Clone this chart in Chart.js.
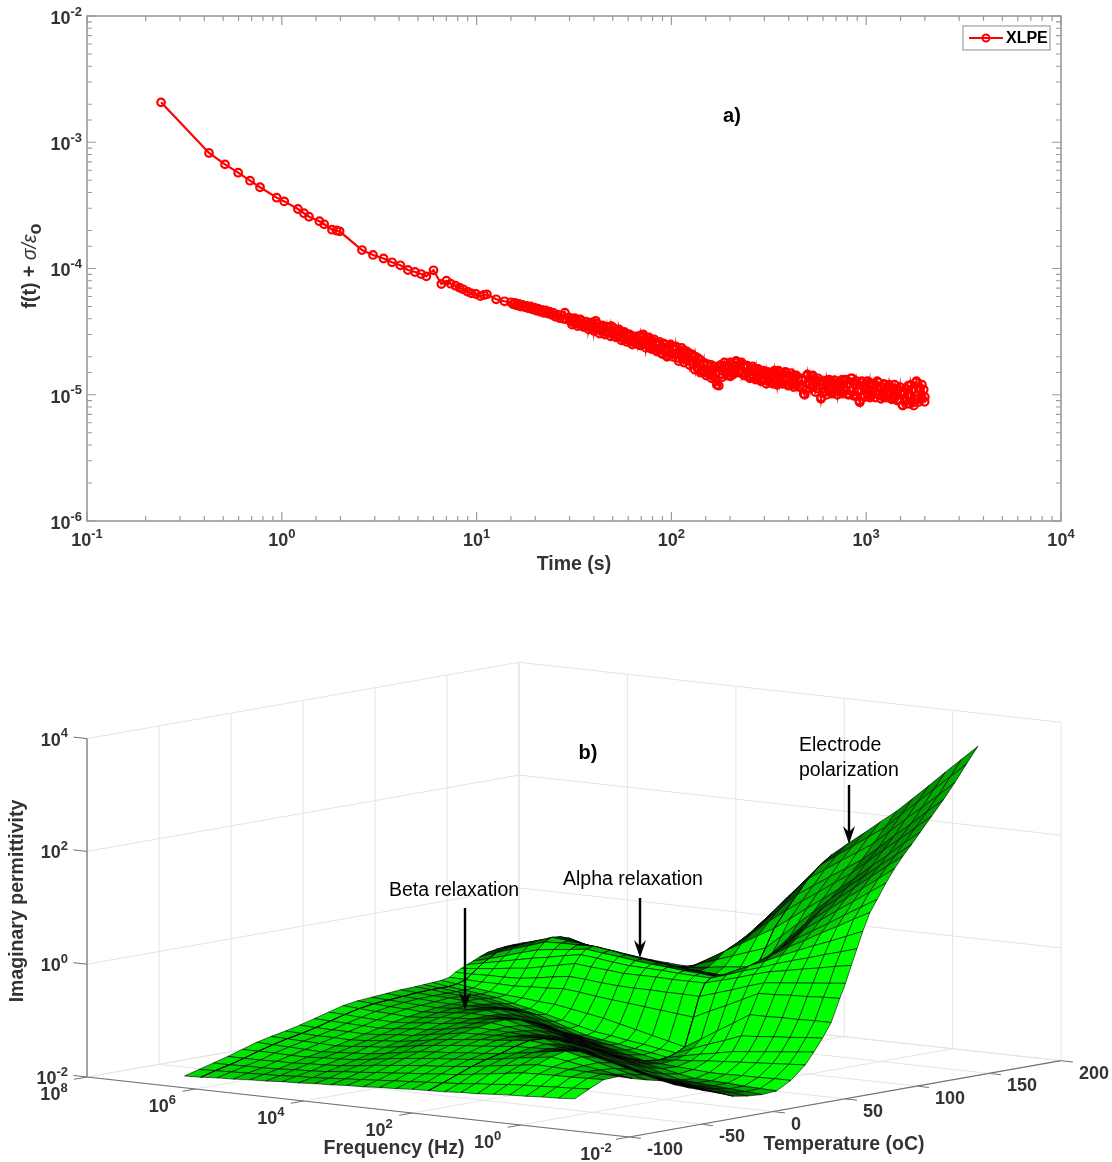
<!DOCTYPE html>
<html>
<head>
<meta charset="utf-8">
<title>XLPE</title>
<script src="https://cdn.jsdelivr.net/npm/chart.js@4"></script>
<style>
  html, body { margin: 0; padding: 0; background: #fff; }
  #page { position: relative; width: 1112px; height: 1162px; overflow: hidden; }
  canvas { position: absolute; left: 0; }
  #decayChart { top: 0; }
  #surfaceChart { top: 590px; }
</style>
</head>
<body>
<div id="page">
  <canvas id="decayChart" width="1112" height="590"></canvas>
  <canvas id="surfaceChart" width="1112" height="572"></canvas>
</div>
<script>
// a) decay curve
const timeS = [
  0.24,0.423,0.511,0.597,0.687,0.773,0.942,1.03,1.21,1.3,
  1.38,1.56,1.65,1.81,1.91,1.98,2.58,2.94,3.33,3.68,
  4.06,4.44,4.83,5.19,5.52,6.01,6.59,7,7.36,7.78,
  8.18,8.53,9,9.4,9.93,10.45,10.9,11.3,12.6,13.9,
  15,15.4,15.7,16.1,16.5,16.8,17.2,17.6,18,18.4,
  18.9,19.3,19.8,20.2,20.7,21.2,21.6,22.1,22.7,23.2,
  23.7,24.3,24.8,25.4,26,26.6,27.2,27.8,28.4,29.1,
  29.8,30.5,31.2,31.9,32.6,33.4,34.1,34.9,35.7,36.5,
  37.4,38.2,39.1,40,40.9,41.9,42.8,43.8,44.8,45.9,
  46.9,48,49.1,50.2,51.4,52.6,53.8,55,56.3,57.6,
  58.9,60.3,61.7,63.1,64.5,66,67.5,69.1,70.7,72.3,
  74,75.7,77.4,79.2,81,82.9,84.8,86.8,88.8,90.8,
  92.9,95,97.2,99.5,102,104,106,109,111,114,
  116,119,122,125,127,130,133,136,140,143,
  146,149,153,156,160,164,167,171,175,179,
  183,187,192,196,201,205,210,215,220,225,
  230,235,241,246,252,258,264,270,276,283,
  289,296,303,310,317,324,332,339,347,355,
  363,372,380,389,398,407,417,426,436,446,
  457,467,478,489,500,512,524,536,548,561,
  574,587,600,614,629,643,658,673,689,705,
  721,738,755,772,790,808,827,846,866,886,
  906,927,949,971,993,1016,1040,1064,1088,1114,
  1139,1166,1193,1220,1248,1277,1307,1337,1368,1400,
  1432,1465,1499,1534,1570,1606,1643,1681,1720,1760,
  1800,1842,1885,1928,1973,2000,
  30.9,31.9,33,34.1,35.2,36.4,37.6,38.8,40.1,41.4,
  42.8,44.2,45.6,47.1,48.7,50.3,51.9,53.6,55.4,57.2,
  59.1,61,63,65.1,67.2,69.4,71.7,74.1,76.5,79,
  81.6,84.3,87,89.9,92.8,95.9,99,102,106,109,
  113,116,120,124,128,132,137,141,146,151,
  156,161,166,171,177,183,189,195,201,208,
  215,222,229,237,245,253,261,270,279,288,
  297,307,317,327,338,349,361,373,385,398,
  411,424,438,453,467,483,499,515,532,549,
  567,586,605,625,645,666,688,711,734,758,
  783,809,835,862,891,920,950,981,1013,1046,
  1081,1116,1153,1190,1229,1270,1311,1354,1399,1445,
  1492,1541,1592,1644,1698,1754,1811,1871,1932,1995
];
const decayValues = [
  2.07e-3,8.22e-4,6.68e-4,5.74e-4,4.96e-4,4.4e-4,3.64e-4,3.4e-4,2.96e-4,2.74e-4,
  2.57e-4,2.37e-4,2.24e-4,2.03e-4,2e-4,1.97e-4,1.4e-4,1.28e-4,1.2e-4,1.12e-4,
  1.06e-4,9.73e-5,9.38e-5,9.04e-5,8.67e-5,9.68e-5,7.54e-5,8e-5,7.58e-5,7.31e-5,
  7.05e-5,6.84e-5,6.55e-5,6.35e-5,6.28e-5,6.05e-5,6.17e-5,6.24e-5,5.7e-5,5.5e-5,
  5.4e-5,5.2e-5,5.35e-5,5.1e-5,5.25e-5,5e-5,5.15e-5,4.95e-5,5.05e-5,4.85e-5,
  5e-5,4.75e-5,4.9e-5,4.65e-5,4.8e-5,4.55e-5,4.7e-5,4.45e-5,4.65e-5,4.4e-5,
  4.55e-5,4.3e-5,4.45e-5,4.15e-5,4.3e-5,4.05e-5,4.25e-5,4e-5,4.47e-5,3.95e-5,
  4.1e-5,3.8e-5,4e-5,3.7e-5,3.9e-5,3.65e-5,3.85e-5,3.6e-5,3.45e-5,3.75e-5,
  3.5e-5,3.7e-5,3.35e-5,3.55e-5,3.85e-5,3.3e-5,3.5e-5,3.2e-5,3.45e-5,3.15e-5,
  3.4e-5,3.1e-5,3.5e-5,3e-5,3.25e-5,2.95e-5,3.3e-5,2.85e-5,3.1e-5,2.8e-5,
  3.05e-5,2.7e-5,2.95e-5,2.62e-5,2.85e-5,2.55e-5,2.5e-5,2.95e-5,2.6e-5,2.9e-5,
  2.5e-5,2.8e-5,2.4e-5,2.7e-5,2.35e-5,2.6e-5,2.25e-5,2.5e-5,2.15e-5,2.55e-5,
  2.3e-5,2e-5,2.45e-5,2.15e-5,2.4e-5,2.1e-5,2.3e-5,1.95e-5,2.2e-5,2.05e-5,
  2.25e-5,1.9e-5,2.15e-5,1.85e-5,2.1e-5,1.75e-5,2e-5,1.62e-5,1.9e-5,1.55e-5,
  1.8e-5,1.5e-5,1.75e-5,1.55e-5,1.72e-5,1.4e-5,1.68e-5,1.28e-5,1.18e-5,1.72e-5,
  1.45e-5,1.8e-5,1.5e-5,1.7e-5,1.4e-5,1.75e-5,1.5e-5,1.8e-5,1.55e-5,1.75e-5,
  1.48e-5,1.72e-5,1.45e-5,1.65e-5,1.4e-5,1.62e-5,1.38e-5,1.6e-5,1.35e-5,1.55e-5,
  1.32e-5,1.5e-5,1.3e-5,1.52e-5,1.28e-5,1.45e-5,1.22e-5,1.5e-5,1.3e-5,1.55e-5,
  1.25e-5,1.45e-5,1.3e-5,1.48e-5,1.22e-5,1.4e-5,1.2e-5,1.42e-5,1.2e-5,1.35e-5,
  1.18e-5,1.3e-5,1.02e-5,1.1e-5,1.42e-5,1.2e-5,1.4e-5,1.18e-5,1.32e-5,1.12e-5,
  1.28e-5,9.5e-6,1.2e-5,1.05e-5,1.3e-5,1.12e-5,1.28e-5,1.05e-5,1.3e-5,1.1e-5,
  1.25e-5,1.05e-5,1.32e-5,1.08e-5,1.3e-5,1.02e-5,1.22e-5,1.35e-5,1e-5,1.2e-5,
  1.05e-5,8.7e-6,1.25e-5,1e-5,1.22e-5,1.02e-5,1.25e-5,9.8e-6,1.18e-5,1.02e-5,
  1.28e-5,1e-5,1.15e-5,9.7e-6,1.2e-5,1e-5,1.15e-5,9.5e-6,1.12e-5,9.8e-6,
  1.1e-5,9.2e-6,1.05e-5,8.3e-6,1.02e-5,9e-6,1.18e-5,8.5e-6,1.1e-5,8.7e-6,
  1.25e-5,9.2e-6,1.12e-5,9.5e-6,1.1e-5,9.6e-6,
  3.6e-5,4.05e-5,3.5e-5,3.95e-5,3.45e-5,3.8e-5,3.3e-5,3.75e-5,3.2e-5,3.65e-5,
  3.05e-5,3.55e-5,3e-5,3.45e-5,2.9e-5,3.4e-5,2.85e-5,3.2e-5,2.7e-5,3.15e-5,
  2.62e-5,3e-5,2.5e-5,2.9e-5,2.75e-5,2.45e-5,3e-5,2.35e-5,2.85e-5,2.3e-5,
  2.75e-5,2.2e-5,2.62e-5,2.1e-5,2.5e-5,2.05e-5,2.5e-5,2e-5,2.4e-5,1.85e-5,
  2.35e-5,1.8e-5,2.2e-5,1.72e-5,2.05e-5,1.58e-5,1.95e-5,1.5e-5,1.72e-5,1.42e-5,
  1.65e-5,1.35e-5,1.6e-5,1.2e-5,1.65e-5,1.38e-5,1.7e-5,1.42e-5,1.8e-5,1.45e-5,
  1.85e-5,1.5e-5,1.8e-5,1.42e-5,1.7e-5,1.35e-5,1.68e-5,1.32e-5,1.6e-5,1.28e-5,
  1.55e-5,1.22e-5,1.5e-5,1.25e-5,1.55e-5,1.2e-5,1.5e-5,1.22e-5,1.52e-5,1.18e-5,
  1.48e-5,1.15e-5,1.42e-5,1.15e-5,1.35e-5,1e-5,1.45e-5,1.12e-5,1.42e-5,1.05e-5,
  1.35e-5,9.3e-6,1.28e-5,1e-5,1.32e-5,1.02e-5,1.3e-5,1e-5,1.28e-5,1.02e-5,
  1.32e-5,1e-5,1.35e-5,9.8e-6,1.28e-5,9e-6,1.28e-5,9.6e-6,1.28e-5,9.5e-6,
  1.22e-5,9.5e-6,1.25e-5,9.3e-6,1.22e-5,9.5e-6,1.2e-5,9.2e-6,1.2e-5,9e-6,
  1.15e-5,8.2e-6,1.12e-5,8.5e-6,1.2e-5,8.2e-6,1.28e-5,8.8e-6,1.2e-5,8.8e-6
];

// b) surface, log10 of frequency across, temperature down, log10 of permittivity in the cells
const logFreq = [6.2,5.9,5.6,5.3,5,4.7,4.4,4.1,3.8,3.5,3.2,2.9,2.6,2.3,2,1.7,1.4,1.1,0.8,0.5,0.2,-0.1,-0.4,-0.7,-1];
const tempC = [-100,-90,-80,-70,-60,-50,-40,-30,-20,-10,0,10,20,30,40,50,60,66,72,78,84,88,92,96,100,105,110,116,122,128,134,140,148,156,164,172,180];
const logPerm = [
  [-1.79,-1.78,-1.76,-1.75,-1.73,-1.72,-1.70,-1.69,-1.67,-1.66,-1.64,-1.63,-1.61,-1.60,-1.58,-1.57,-1.56,-1.54,-1.53,-1.51,-1.49,-1.48,-1.46,-1.45,-1.43],
  [-1.72,-1.71,-1.70,-1.69,-1.68,-1.67,-1.65,-1.64,-1.62,-1.60,-1.58,-1.56,-1.54,-1.52,-1.50,-1.48,-1.46,-1.43,-1.41,-1.38,-1.36,-1.35,-1.33,-1.32,-1.30],
  [-1.65,-1.65,-1.64,-1.64,-1.63,-1.61,-1.60,-1.58,-1.55,-1.53,-1.50,-1.48,-1.45,-1.43,-1.40,-1.38,-1.34,-1.30,-1.26,-1.22,-1.21,-1.20,-1.20,-1.19,-1.18],
  [-1.58,-1.58,-1.58,-1.57,-1.57,-1.55,-1.54,-1.52,-1.49,-1.45,-1.42,-1.39,-1.36,-1.34,-1.31,-1.28,-1.24,-1.20,-1.16,-1.12,-1.13,-1.14,-1.15,-1.16,-1.17],
  [-1.50,-1.50,-1.50,-1.51,-1.51,-1.49,-1.48,-1.46,-1.42,-1.38,-1.34,-1.31,-1.28,-1.26,-1.23,-1.20,-1.16,-1.11,-1.07,-1.03,-1.07,-1.12,-1.16,-1.21,-1.25],
  [-1.42,-1.43,-1.44,-1.45,-1.46,-1.44,-1.42,-1.40,-1.36,-1.31,-1.27,-1.24,-1.22,-1.19,-1.17,-1.14,-1.10,-1.06,-1.01,-0.97,-1.04,-1.11,-1.18,-1.25,-1.32],
  [-1.36,-1.37,-1.38,-1.39,-1.40,-1.38,-1.35,-1.33,-1.29,-1.24,-1.20,-1.17,-1.14,-1.12,-1.09,-1.06,-1.05,-1.04,-1.03,-1.02,-1.09,-1.16,-1.24,-1.31,-1.38],
  [-1.31,-1.32,-1.33,-1.33,-1.34,-1.32,-1.29,-1.27,-1.23,-1.18,-1.14,-1.11,-1.08,-1.06,-1.03,-1.00,-1.03,-1.06,-1.09,-1.12,-1.20,-1.27,-1.35,-1.42,-1.50],
  [-1.25,-1.26,-1.27,-1.27,-1.28,-1.26,-1.23,-1.21,-1.16,-1.12,-1.07,-1.06,-1.05,-1.04,-1.02,-1.01,-1.08,-1.14,-1.21,-1.28,-1.34,-1.41,-1.47,-1.54,-1.60],
  [-1.18,-1.19,-1.20,-1.21,-1.22,-1.20,-1.17,-1.15,-1.11,-1.06,-1.02,-1.03,-1.04,-1.06,-1.07,-1.08,-1.17,-1.26,-1.35,-1.44,-1.49,-1.54,-1.59,-1.64,-1.69],
  [-1.11,-1.12,-1.14,-1.15,-1.16,-1.14,-1.11,-1.09,-1.05,-1.02,-0.98,-1.02,-1.06,-1.10,-1.14,-1.18,-1.29,-1.39,-1.50,-1.60,-1.64,-1.67,-1.71,-1.74,-1.78],
  [-1.04,-1.06,-1.08,-1.09,-1.11,-1.09,-1.06,-1.04,-1.02,-0.99,-0.97,-1.04,-1.10,-1.17,-1.23,-1.30,-1.40,-1.50,-1.60,-1.70,-1.74,-1.77,-1.81,-1.84,-1.88],
  [-1.00,-1.02,-1.04,-1.05,-1.07,-1.05,-1.02,-1.00,-1.01,-1.01,-1.02,-1.10,-1.18,-1.26,-1.34,-1.42,-1.51,-1.60,-1.69,-1.78,-1.81,-1.84,-1.86,-1.89,-1.92],
  [-0.98,-1.00,-1.01,-1.03,-1.04,-1.02,-1.01,-0.99,-1.03,-1.08,-1.12,-1.20,-1.29,-1.37,-1.46,-1.54,-1.62,-1.69,-1.77,-1.84,-1.86,-1.88,-1.90,-1.92,-1.94],
  [-0.96,-0.98,-0.99,-1.01,-1.02,-1.02,-1.02,-1.02,-1.09,-1.17,-1.24,-1.32,-1.40,-1.48,-1.56,-1.64,-1.70,-1.75,-1.81,-1.86,-1.87,-1.88,-1.90,-1.91,-1.92],
  [-0.94,-0.96,-0.98,-0.99,-1.01,-1.04,-1.06,-1.09,-1.18,-1.28,-1.37,-1.44,-1.51,-1.58,-1.65,-1.72,-1.74,-1.76,-1.78,-1.80,-1.80,-1.79,-1.79,-1.78,-1.78],
  [-0.93,-0.95,-0.98,-1.00,-1.02,-1.07,-1.13,-1.18,-1.28,-1.37,-1.47,-1.53,-1.58,-1.64,-1.69,-1.75,-1.72,-1.70,-1.67,-1.65,-1.63,-1.61,-1.59,-1.57,-1.55],
  [-0.92,-0.95,-0.98,-1.01,-1.04,-1.10,-1.17,-1.23,-1.32,-1.41,-1.50,-1.55,-1.59,-1.64,-1.68,-1.73,-1.67,-1.61,-1.56,-1.50,-1.47,-1.44,-1.41,-1.38,-1.35],
  [-0.91,-0.95,-0.98,-1.02,-1.05,-1.12,-1.18,-1.25,-1.32,-1.39,-1.46,-1.50,-1.55,-1.59,-1.64,-1.68,-1.57,-1.46,-1.36,-1.25,-1.23,-1.20,-1.18,-1.15,-1.13],
  [-0.90,-0.93,-0.97,-1.00,-1.03,-1.05,-1.08,-1.10,-1.15,-1.20,-1.25,-1.32,-1.39,-1.46,-1.53,-1.60,-1.43,-1.25,-1.08,-0.90,-0.90,-0.89,-0.89,-0.88,-0.88],
  [-0.87,-0.88,-0.89,-0.89,-0.90,-0.88,-0.87,-0.85,-0.88,-0.92,-0.95,-0.98,-1.01,-1.04,-1.07,-1.10,-0.96,-0.83,-0.69,-0.55,-0.54,-0.52,-0.51,-0.49,-0.48],
  [-0.80,-0.80,-0.79,-0.79,-0.78,-0.74,-0.69,-0.65,-0.67,-0.70,-0.72,-0.73,-0.73,-0.74,-0.74,-0.75,-0.66,-0.57,-0.47,-0.38,-0.35,-0.32,-0.29,-0.26,-0.23],
  [-0.75,-0.72,-0.69,-0.65,-0.62,-0.56,-0.50,-0.44,-0.47,-0.49,-0.52,-0.52,-0.52,-0.53,-0.53,-0.53,-0.45,-0.37,-0.28,-0.20,-0.15,-0.09,-0.04,0.02,0.07],
  [-0.70,-0.64,-0.58,-0.52,-0.46,-0.41,-0.35,-0.30,-0.33,-0.37,-0.40,-0.41,-0.42,-0.44,-0.45,-0.46,-0.37,-0.27,-0.18,-0.08,0.01,0.09,0.18,0.26,0.35],
  [-0.66,-0.58,-0.50,-0.41,-0.33,-0.29,-0.26,-0.22,-0.26,-0.29,-0.33,-0.36,-0.38,-0.41,-0.43,-0.46,-0.33,-0.20,-0.08,0.05,0.17,0.29,0.40,0.52,0.64],
  [-0.60,-0.50,-0.40,-0.31,-0.21,-0.20,-0.20,-0.19,-0.23,-0.28,-0.32,-0.36,-0.39,-0.43,-0.46,-0.50,-0.33,-0.16,0.01,0.18,0.33,0.49,0.64,0.80,0.95],
  [-0.55,-0.45,-0.35,-0.25,-0.15,-0.18,-0.21,-0.24,-0.28,-0.32,-0.36,-0.40,-0.44,-0.47,-0.51,-0.55,-0.34,-0.12,0.09,0.30,0.47,0.64,0.82,0.99,1.16],
  [-0.52,-0.43,-0.35,-0.26,-0.17,-0.23,-0.28,-0.34,-0.37,-0.41,-0.44,-0.47,-0.50,-0.52,-0.55,-0.58,-0.32,-0.07,0.19,0.45,0.64,0.84,1.03,1.23,1.42],
  [-0.50,-0.43,-0.36,-0.29,-0.22,-0.30,-0.37,-0.45,-0.47,-0.50,-0.52,-0.54,-0.55,-0.57,-0.58,-0.60,-0.30,0.00,0.30,0.60,0.81,1.02,1.23,1.44,1.65],
  [-0.49,-0.45,-0.40,-0.36,-0.31,-0.39,-0.48,-0.56,-0.57,-0.57,-0.58,-0.54,-0.51,-0.47,-0.44,-0.40,-0.11,0.18,0.46,0.75,0.97,1.19,1.41,1.63,1.85],
  [-0.49,-0.47,-0.45,-0.43,-0.41,-0.49,-0.58,-0.66,-0.64,-0.62,-0.60,-0.50,-0.40,-0.30,-0.20,-0.10,0.15,0.40,0.65,0.90,1.13,1.35,1.58,1.80,2.03],
  [-0.49,-0.49,-0.50,-0.50,-0.50,-0.58,-0.66,-0.74,-0.69,-0.65,-0.60,-0.44,-0.27,-0.11,0.06,0.22,0.43,0.64,0.84,1.05,1.28,1.52,1.75,1.99,2.22],
  [-0.49,-0.52,-0.56,-0.59,-0.62,-0.69,-0.76,-0.83,-0.76,-0.69,-0.62,-0.40,-0.17,0.05,0.28,0.50,0.70,0.89,1.09,1.28,1.52,1.76,1.99,2.23,2.47],
  [-0.53,-0.58,-0.63,-0.67,-0.72,-0.78,-0.83,-0.89,-0.79,-0.68,-0.58,-0.31,-0.05,0.22,0.48,0.75,0.94,1.13,1.31,1.50,1.74,1.99,2.23,2.48,2.72],
  [-0.59,-0.64,-0.69,-0.74,-0.79,-0.84,-0.88,-0.93,-0.79,-0.64,-0.50,-0.20,0.10,0.40,0.70,1.00,1.19,1.38,1.56,1.75,2.00,2.25,2.49,2.74,2.99],
  [-0.66,-0.71,-0.75,-0.80,-0.84,-0.88,-0.91,-0.95,-0.76,-0.57,-0.38,-0.06,0.25,0.57,0.88,1.20,1.40,1.60,1.80,2.00,2.26,2.51,2.77,3.02,3.28],
  [-0.74,-0.77,-0.81,-0.84,-0.87,-0.89,-0.91,-0.93,-0.70,-0.48,-0.25,0.07,0.39,0.71,1.03,1.35,1.58,1.80,2.03,2.25,2.51,2.77,3.04,3.30,3.56]
];
const kinkColumns = [1, 15];

// axis ticks of the 3D box
const freqTicks = [8, 6, 4, 2, 0, -2];
const tempTicks = [-100, -50, 0, 50, 100, 150, 200];
const permTicks = [-2, 0, 2, 4];

const textColor = "#333333";
const fontName = '"Liberation Sans", Arial, sans-serif';

// "10" with a raised exponent, x is the left, centre or right of the whole label
function drawPower(ctx, exp, x, y, align) {
  ctx.save();
  ctx.textBaseline = "middle";
  ctx.textAlign = "left";
  ctx.font = "bold 18px " + fontName;
  const baseW = ctx.measureText("10").width;
  ctx.font = "bold 13px " + fontName;
  const expW = ctx.measureText(String(exp)).width;
  const total = baseW + expW;
  const left = align === "right" ? x - total : align === "center" ? x - total / 2 : x;
  ctx.fillText(String(exp), left + baseW, y - 7);
  ctx.font = "bold 18px " + fontName;
  ctx.fillText("10", left, y);
  ctx.restore();
}

function isPower(v) {
  const e = Math.log10(v);
  return Math.abs(e - Math.round(e)) < 1e-9;
}

// inward ticks, frame, tick labels and legend, the log scales already hold 1..9 per decade
const frameTicks = {
  id: "frameTicks",
  afterDatasetsDraw(chart) {
    const { ctx, chartArea: a, scales } = chart;
    ctx.save();
    ctx.strokeStyle = "#9a9a9a";
    ctx.fillStyle = textColor;
    ctx.lineWidth = 1.2;
    scales.x.ticks.forEach(t => {
      const px = scales.x.getPixelForValue(t.value);
      const major = isPower(t.value);
      const len = major ? 9 : 5;
      ctx.beginPath();
      ctx.moveTo(px, a.bottom); ctx.lineTo(px, a.bottom - len);
      ctx.moveTo(px, a.top); ctx.lineTo(px, a.top + len);
      ctx.stroke();
      if (major) drawPower(ctx, Math.round(Math.log10(t.value)), px, a.bottom + 20, "center");
    });
    scales.y.ticks.forEach(t => {
      const py = scales.y.getPixelForValue(t.value);
      const major = isPower(t.value);
      const len = major ? 9 : 5;
      ctx.beginPath();
      ctx.moveTo(a.left, py); ctx.lineTo(a.left + len, py);
      ctx.moveTo(a.right, py); ctx.lineTo(a.right - len, py);
      ctx.stroke();
      if (major) drawPower(ctx, Math.round(Math.log10(t.value)), a.left - 5, py + 3, "right");
    });
    ctx.lineWidth = 1.6;
    ctx.strokeRect(a.left, a.top, a.right - a.left, a.bottom - a.top);

    // y title in pieces, the sigma part is not bold in the figure
    ctx.save();
    ctx.translate(31, 266);
    ctx.rotate(-Math.PI / 2);
    ctx.textBaseline = "middle";
    ctx.textAlign = "left";
    const pieces = [
      { text: "f(t) + ", font: "bold 19.5px " + fontName, dy: 0 },
      { text: "\u03C3/\u03B5", font: "italic 19.5px " + fontName, dy: 0 },
      { text: "o", font: "bold 18px " + fontName, dy: 5 }
    ];
    let total = 0;
    pieces.forEach(p => { ctx.font = p.font; total += ctx.measureText(p.text).width; });
    let at = -total / 2;
    pieces.forEach(p => {
      ctx.font = p.font;
      ctx.fillText(p.text, at, p.dy);
      at += ctx.measureText(p.text).width;
    });
    ctx.restore();

    // legend box
    ctx.fillStyle = "#fff";
    ctx.strokeStyle = "#a0a0a0";
    ctx.lineWidth = 1.2;
    ctx.fillRect(963, 26, 87, 24);
    ctx.strokeRect(963, 26, 87, 24);
    ctx.strokeStyle = "#ff0000";
    ctx.lineWidth = 2;
    ctx.beginPath();
    ctx.moveTo(969, 38); ctx.lineTo(1003, 38);
    ctx.stroke();
    ctx.beginPath();
    ctx.arc(986, 38, 3.5, 0, Math.PI * 2);
    ctx.stroke();
    ctx.fillStyle = "#000";
    ctx.font = "bold 16px " + fontName;
    ctx.textAlign = "left";
    ctx.textBaseline = "middle";
    ctx.fillText("XLPE", 1006, 38.5);

    ctx.font = "bold 20px " + fontName;
    ctx.textAlign = "center";
    ctx.fillText("a)", 732, 116);
    ctx.restore();
  }
};

new Chart(document.getElementById("decayChart"), {
  type: "scatter",
  data: {
    datasets: [{
      label: "XLPE",
      data: timeS.map((t, i) => ({ x: t, y: decayValues[i] })).sort((p, q) => p.x - q.x),
      showLine: true,
      borderColor: "#ff0000",
      borderWidth: 2.2,
      pointStyle: "circle",
      pointRadius: 3.8,
      pointBorderColor: "#ff0000",
      pointBorderWidth: 2.2,
      pointBackgroundColor: "rgba(255,255,255,0)"
    }]
  },
  options: {
    responsive: false,
    animation: false,
    layout: { padding: { top: 16, right: 51, left: 0, bottom: 0 } },
    plugins: { legend: { display: false }, tooltip: { enabled: false } },
    scales: {
      x: {
        type: "logarithmic",
        min: 0.1,
        max: 10000,
        afterFit(s) { s.height = 69; },
        grid: { display: false },
        border: { display: false },
        title: { display: true, text: "Time (s)", color: textColor, font: { family: fontName, size: 19.5, weight: "bold" }, padding: { top: 0, bottom: 14 } },
        ticks: { display: false }
      },
      y: {
        type: "logarithmic",
        min: 1e-6,
        max: 1e-2,
        afterFit(s) { s.width = 87; },
        grid: { display: false },
        border: { display: false },
        ticks: { display: false }
      }
    }
  },
  plugins: [frameTicks]
});

// 3D view: frequency runs from the left corner to the front, temperature from the front to the right
const view = { x0: 87, y0: 1077, ux: 542, uy: 60, vx: 432, vy: -76.3, zs: 56.4 };

function project(logF, T, logZ) {
  const u = (8 - logF) / 10;
  const v = (T + 100) / 300;
  return {
    x: view.x0 + view.ux * u + view.vx * v,
    y: view.y0 + view.uy * u + view.vy * v - (logZ + 2) * view.zs
  };
}

function lineSet(points, color, width) {
  return { data: points, showLine: true, borderColor: color, borderWidth: width, pointRadius: 0, fill: false };
}

// the figure's mesh is finer than this grid, so tiny cells get a darker green
// to read like packed black lines
function meshGreen(a, b, d, dF, dT, T) {
  const cross = Math.abs((b.x - a.x) * (d.y - a.y) - (b.y - a.y) * (d.x - a.x));
  const w = cross / Math.max(Math.hypot(d.x - a.x, d.y - a.y), 0.01);
  const h = cross / Math.max(Math.hypot(b.x - a.x, b.y - a.y), 0.01);
  const gapW = w / (dF / 0.16);
  const gapH = h / (dT / (T >= 100 ? 2.5 : 5));
  const cover = 1 - (1 - Math.min(1, 0.8 / gapW)) * (1 - Math.min(1, 0.8 / gapH));
  let g = Math.round(255 * (1 - Math.max(0, cover - 0.25) / 0.75));
  if (T >= 60) g = Math.max(g, 70);
  return "rgb(0," + g + ",0)";
}

const surfaceSets = [];
// first dataset is painted last, so the nearest cells go in first
for (let t = 0; t < tempC.length - 1; t++) {
  for (let f = logFreq.length - 2; f >= 0; f--) {
    const a = project(logFreq[f], tempC[t], logPerm[t][f]);
    const b = project(logFreq[f + 1], tempC[t], logPerm[t][f + 1]);
    const c = project(logFreq[f + 1], tempC[t + 1], logPerm[t + 1][f + 1]);
    const d = project(logFreq[f], tempC[t + 1], logPerm[t + 1][f]);
    if (kinkColumns.includes(f)) surfaceSets.push(lineSet([a, d], "#000000", 1));
    surfaceSets.push({
      data: [a, b, c, d, a],
      showLine: true,
      borderColor: "#000000",
      borderWidth: 0.6,
      backgroundColor: meshGreen(a, b, d, logFreq[f] - logFreq[f + 1], tempC[t + 1] - tempC[t], tempC[t]),
      fill: "shape",
      pointRadius: 0
    });
  }
}

// axes in front of the grid, both behind the surface
const axisColor = "#707070";
const gridColor = "#e4e4e4";
const boxSets = [];
boxSets.push(lineSet([project(8, -100, -2), project(8, -100, 4)], axisColor, 1.2));
boxSets.push(lineSet([project(8, -100, -2), project(-2, -100, -2)], axisColor, 1.2));
boxSets.push(lineSet([project(-2, -100, -2), project(-2, 200, -2)], axisColor, 1.2));
freqTicks.forEach(f => {
  boxSets.push(lineSet([project(f, -100, -2), project(f, -109, -2)], axisColor, 1));
  boxSets.push(lineSet([project(f, -100, -2), project(f, 200, -2), project(f, 200, 4)], gridColor, 1));
});
tempTicks.forEach(T => {
  boxSets.push(lineSet([project(-2, T, -2), project(-2.22, T, -2)], axisColor, 1));
  boxSets.push(lineSet([project(-2, T, -2), project(8, T, -2), project(8, T, 4)], gridColor, 1));
});
permTicks.forEach(z => {
  boxSets.push(lineSet([project(8, -100, z), project(8.25, -100, z)], axisColor, 1));
  boxSets.push(lineSet([project(8, -100, z), project(8, 200, z), project(-2, 200, z)], gridColor, 1));
});

function drawArrow(ctx, x, y0, y1) {
  ctx.strokeStyle = "#000";
  ctx.fillStyle = "#000";
  ctx.lineWidth = 2.4;
  ctx.beginPath();
  ctx.moveTo(x, y0); ctx.lineTo(x, y1 - 6);
  ctx.stroke();
  ctx.beginPath();
  ctx.moveTo(x, y1);
  ctx.lineTo(x - 6, y1 - 18);
  ctx.lineTo(x, y1 - 12);
  ctx.lineTo(x + 6, y1 - 18);
  ctx.closePath();
  ctx.fill();
}

const surfaceLabels = {
  id: "surfaceLabels",
  afterDatasetsDraw(chart) {
    const ctx = chart.ctx;
    ctx.save();
    ctx.translate(0, -590);
    ctx.fillStyle = textColor;
    ctx.textBaseline = "middle";

    permTicks.forEach(z => {
      const p = project(8, -100, z);
      drawPower(ctx, z, p.x - 19, p.y + 2, "right");
    });
    freqTicks.forEach(f => {
      const p = project(f, -100, -2);
      drawPower(ctx, f, p.x - 33, p.y + 18, "center");
    });
    ctx.font = "bold 18px " + fontName;
    ctx.textAlign = "left";
    tempTicks.forEach(T => {
      const p = project(-2, T, -2);
      ctx.fillText(String(T), p.x + 18, p.y + 13);
    });

    ctx.textAlign = "center";
    ctx.font = "bold 19.5px " + fontName;
    ctx.fillText("Frequency (Hz)", 394, 1149);
    ctx.fillText("Temperature (oC)", 844, 1145);
    ctx.save();
    ctx.translate(17.5, 901);
    ctx.rotate(-Math.PI / 2);
    ctx.fillText("Imaginary permittivity", 0, 0);
    ctx.restore();

    ctx.fillStyle = "#000";
    ctx.font = "bold 20px " + fontName;
    ctx.fillText("b)", 588, 753);
    ctx.font = "19.5px " + fontName;
    ctx.textAlign = "left";
    ctx.fillText("Electrode", 799, 746);
    ctx.fillText("polarization", 799, 771);
    ctx.fillText("Alpha relaxation", 563, 880);
    ctx.fillText("Beta relaxation", 389, 891);

    drawArrow(ctx, 465, 908, 1010);
    drawArrow(ctx, 640, 898, 958);
    drawArrow(ctx, 849, 785, 844);
    ctx.restore();
  }
};

new Chart(document.getElementById("surfaceChart"), {
  type: "scatter",
  data: { datasets: surfaceSets.concat(boxSets) },
  options: {
    responsive: false,
    animation: false,
    layout: { padding: 0 },
    plugins: { legend: { display: false }, tooltip: { enabled: false } },
    scales: {
      x: { type: "linear", display: false, min: 0, max: 1112 },
      y: { type: "linear", display: false, min: 590, max: 1162, reverse: true }
    }
  },
  plugins: [surfaceLabels]
});
</script>
</body>
</html>
